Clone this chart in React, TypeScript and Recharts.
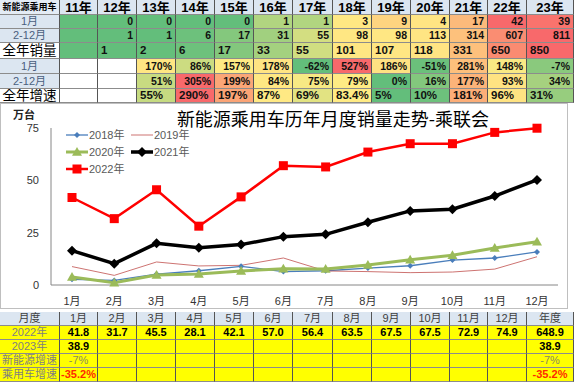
import React from 'react';
import { LineChart, Line, XAxis, YAxis } from 'recharts';

// monthly sales (万台)
const months = ['1月', '2月', '3月', '4月', '5月', '6月', '7月', '8月', '9月', '10月', '11月', '12月'];
const sales2018 = [2.7, 2.2, 5.2, 6.8, 8.9, 6.4, 6.8, 8.1, 9.2, 11.9, 12.9, 15.8];
const sales2019 = [8.8, 4.6, 11.0, 9.1, 9.4, 12.9, 6.7, 6.4, 5.9, 6.2, 7.6, 13.5];
const sales2020 = [3.8, 1.1, 4.8, 5.3, 6.7, 7.8, 7.6, 9.6, 12.1, 14.2, 17.7, 20.7];
const sales2021 = [16.4, 10.2, 19.9, 17.8, 19.3, 23.1, 24.2, 30.0, 35.4, 36.2, 42.5, 50.2];
const sales2022 = [41.8, 31.7, 45.5, 28.1, 42.1, 57.0, 56.4, 63.5, 67.5, 67.5, 72.9, 74.9];
const yTicks = [0, 25, 50, 75];

// top summary table
const years = ['11年', '12年', '13年', '14年', '15年', '16年', '17年', '18年', '19年', '20年', '21年', '22年', '23年'];
const janSales = [null, 0, 0, 0, 0, 1, 1, 3, 9, 4, 17, 42, 39];
const restSales = [null, 1, 1, 6, 17, 31, 55, 98, 98, 113, 314, 607, 811];
const totalSales = [null, 1, 2, 6, 17, 33, 55, 101, 107, 118, 331, 650, 850];
const janGrowth = [null, null, 170, 86, 157, 178, -62, 527, 186, -51, 281, 148, -7];
const restGrowth = [null, null, 51, 305, 199, 84, 75, 79, 0, 16, 177, 93, 34];
const totalGrowth = [null, null, 55, 290, 197, 87, 69, 83.4, 5, 10, 181, 96, 31];

// bottom table
const monthly2023 = [38.9];
const annual2022 = 648.9;
const annual2023 = 38.9;
const nevGrowth = '-7%';
const pvGrowth = '-35.2%';

const seriesList = [
  { name: '2018年', values: sales2018, color: '#4a7ebb', width: 1.3, shape: 'diamond', size: 6 },
  { name: '2019年', values: sales2019, color: '#c0504d', width: 1, shape: 'none', size: 0 },
  { name: '2020年', values: sales2020, color: '#9bbb59', width: 3, shape: 'triangle', size: 10 },
  { name: '2021年', values: sales2021, color: '#000000', width: 3.5, shape: 'diamond', size: 10 },
  { name: '2022年', values: sales2022, color: '#ff0000', width: 2.5, shape: 'square', size: 9 },
];

const data = months.map((m, i) => {
  const row: any = { month: m };
  seriesList.forEach(s => { row[s.name] = s.values[i]; });
  return row;
});

const FONT = '"Liberation Sans", "Noto Sans CJK SC", sans-serif';
const EDGES = [0, 60, 98, 137, 176, 215, 254, 293, 333, 372, 411, 450, 488, 527, 574];
const TOP_ROWS = [0, 15, 29, 43, 59, 74, 89, 103];
const BOT_ROWS = [312, 326, 340, 354, 368, 382];

// excel style 3-colour scale: green (min) -> yellow (median) -> red (max)
const mix = (a: number[], b: number[], t: number) =>
  `rgb(${a.map((c, i) => Math.round(c + (b[i] - c) * t)).join(',')})`;
function heat(v: number | null, row: (number | null)[], blank: string) {
  if (v == null) return blank;
  const vals = row.filter(x => x != null).map(Number).sort((a, b) => a - b);
  const min = vals[0];
  const max = vals[vals.length - 1];
  const n = vals.length;
  const med = n % 2 ? vals[(n - 1) / 2] : (vals[n / 2 - 1] + vals[n / 2]) / 2;
  const G = [99, 190, 123], Y = [255, 235, 132], R = [248, 105, 107];
  if (v <= med) return mix(G, Y, med === min ? 1 : (v - min) / (med - min));
  return mix(Y, R, (v - med) / (max - med));
}

const Cell = ({ col, top, bottom, bg, children, align = 'center', style = {} }: any) => (
  <div
    style={{
      position: 'absolute',
      left: EDGES[col],
      top,
      width: EDGES[col + 1] - EDGES[col],
      height: bottom - top,
      background: bg,
      boxSizing: 'border-box',
      borderRight: '1px solid #555',
      borderBottom: '1px solid #8c8c8c',
      display: 'flex',
      alignItems: 'center',
      justifyContent: align === 'left' ? 'flex-start' : align === 'right' ? 'flex-end' : 'center',
      padding: '0 3px',
      fontFamily: FONT,
      fontSize: 10.5,
      lineHeight: 1,
      whiteSpace: 'nowrap',
      overflow: 'hidden',
      ...style,
    }}
  >
    {children}
  </div>
);

const Marker = ({ shape, size, color, cx, cy }: any) => {
  const r = size / 2;
  if (shape === 'diamond')
    return <polygon points={`${cx},${cy - r} ${cx + r},${cy} ${cx},${cy + r} ${cx - r},${cy}`} fill={color} />;
  if (shape === 'triangle')
    return <polygon points={`${cx},${cy - r} ${cx + r},${cy + r * 0.75} ${cx - r},${cy + r * 0.75}`} fill={color} />;
  if (shape === 'square') return <rect x={cx - r} y={cy - r} width={size} height={size} fill={color} />;
  return null;
};

const makeDot = (s: any) => (props: any) => {
  const { cx, cy, index } = props;
  if (cx == null || cy == null) return <g key={index} />;
  return (
    <g key={index}>
      <Marker shape={s.shape} size={s.size} color={s.color} cx={cx} cy={cy} />
    </g>
  );
};

const pct = (v: number | null) => (v == null ? '' : `${v}%`);

export default function App() {
  const topRows = [
    { label: '1月', vals: janSales, kind: 'sales', align: 'right', fmt: (v: any) => (v == null ? '' : v) },
    { label: '2-12月', vals: restSales, kind: 'sales', align: 'right', fmt: (v: any) => (v == null ? '' : v) },
    { label: '全年销量', vals: totalSales, kind: 'sales', align: 'left', fmt: (v: any) => (v == null ? '' : v), big: true },
    { label: '1月', vals: janGrowth, kind: 'growth', align: 'right', fmt: pct },
    { label: '2-12月', vals: restGrowth, kind: 'growth', align: 'right', fmt: pct },
    { label: '全年增速', vals: totalGrowth, kind: 'growth', align: 'left', fmt: pct, big: true },
  ];

  return (
    <div style={{ position: 'absolute', left: 0, top: 0, width: 575, height: 382, background: '#fff', overflow: 'hidden' }}>
      {/* top table header */}
      <Cell col={0} top={TOP_ROWS[0]} bottom={TOP_ROWS[1]} bg="#e4ecf5" style={{ fontSize: 9, fontWeight: 700, padding: 0 }}>
        新能源乘用车
      </Cell>
      {years.map((y, i) => (
        <Cell key={y} col={i + 1} top={TOP_ROWS[0]} bottom={TOP_ROWS[1]} bg="#dce6f1" style={{ fontSize: 13, fontWeight: 700 }}>
          {y}
        </Cell>
      ))}
      {topRows.map((r, ri) => (
        <React.Fragment key={ri}>
          <Cell
            col={0}
            top={TOP_ROWS[ri + 1]}
            bottom={TOP_ROWS[ri + 2]}
            bg={r.big ? '#ffffff' : '#dce6f1'}
            style={r.big ? { fontSize: 13.5, color: '#000' } : { fontSize: 11, color: '#4a5f7e' }}
          >
            {r.label}
          </Cell>
          {r.vals.map((v, i) => (
            <Cell
              key={i}
              col={i + 1}
              top={TOP_ROWS[ri + 1]}
              bottom={TOP_ROWS[ri + 2]}
              align={r.align}
              bg={heat(v, r.vals, r.kind === 'sales' ? 'rgb(99,190,123)' : '#ffffff')}
              style={{ fontWeight: 700, fontSize: r.big ? 11.5 : 10.5, color: '#111' }}
            >
              {r.fmt(v)}
            </Cell>
          ))}
        </React.Fragment>
      ))}

      {/* chart */}
      <div
        style={{
          position: 'absolute',
          left: 0,
          top: 103,
          width: 568,
          height: 206,
          border: '1px solid #bfbfbf',
          boxSizing: 'border-box',
          background: '#fff',
        }}
      >
        <LineChart width={566} height={204} data={data} margin={{ top: 24, right: 9, left: 0, bottom: 0 }}>
          <XAxis
            dataKey="month"
            height={23}
            stroke="#868686"
            padding={{ left: 21, right: 21 }}
            tickLine={false}
            tickMargin={6}
            tick={{ fontSize: 11, fill: '#333', fontFamily: FONT }}
          />
          <YAxis
            width={50}
            domain={[0, 75]}
            ticks={yTicks}
            stroke="#868686"
            tickLine={false}
            tickMargin={6}
            tick={{ fontSize: 11, fill: '#333', fontFamily: FONT }}
          />
          {seriesList.map(s => (
            <Line
              key={s.name}
              dataKey={s.name}
              type="linear"
              stroke={s.color}
              strokeWidth={s.width}
              strokeOpacity={s.shape === 'none' ? 0.8 : 1}
              dot={s.shape === 'none' ? false : makeDot(s)}
              activeDot={false}
              isAnimationActive={false}
            />
          ))}
        </LineChart>
      </div>
      <div
        style={{
          position: 'absolute',
          left: 0,
          width: 666,
          top: 109,
          textAlign: 'center',
          fontFamily: '"Noto Sans CJK SC", sans-serif',
          fontSize: 18,
          lineHeight: '18px',
          color: '#000',
        }}
      >
        新能源乘用车历年月度销量走势-乘联会
      </div>
      <div
        style={{
          position: 'absolute',
          left: 13,
          top: 109,
          fontFamily: '"Noto Sans CJK SC", sans-serif',
          fontSize: 11,
          lineHeight: '11px',
          fontWeight: 700,
          color: '#222',
        }}
      >
        万台
      </div>
      {/* legend */}
      {seriesList.map((s, i) => (
        <div
          key={s.name}
          style={{
            position: 'absolute',
            left: 66 + (i % 2) * 65,
            top: 128 + Math.floor(i / 2) * 17,
            height: 14,
            display: 'flex',
            alignItems: 'center',
            fontFamily: FONT,
            fontSize: 11,
            lineHeight: '11px',
            color: '#595959',
          }}
        >
          <svg width={22} height={14}>
            <line x1={0} y1={7} x2={22} y2={7} stroke={s.color} strokeWidth={s.width} strokeOpacity={s.shape === 'none' ? 0.8 : 1} />
            <Marker shape={s.shape} size={s.size} color={s.color} cx={11} cy={7} />
          </svg>
          <span style={{ marginLeft: 1 }}>{s.name}</span>
        </div>
      ))}

      {/* bottom table */}
      <Cell col={0} top={BOT_ROWS[0]} bottom={BOT_ROWS[1]} bg="#dce6f1" style={{ color: '#404040', fontSize: 11 }}>
        月度
      </Cell>
      {months.map((m, i) => (
        <Cell key={m} col={i + 1} top={BOT_ROWS[0]} bottom={BOT_ROWS[1]} bg="#dce6f1" style={{ color: '#404040', fontSize: 11 }}>
          {m}
        </Cell>
      ))}
      <Cell col={13} top={BOT_ROWS[0]} bottom={BOT_ROWS[1]} bg="#dce6f1" style={{ color: '#404040', fontSize: 11 }}>
        年度
      </Cell>
      {[
        { label: '2022年', vals: sales2022.map(v => v.toFixed(1)), annual: annual2022.toFixed(1), color: '#000' },
        { label: '2023年', vals: monthly2023.map(v => v.toFixed(1)), annual: annual2023.toFixed(1), color: '#000' },
        { label: '新能源增速', vals: [nevGrowth], annual: nevGrowth, color: '#8c8c5a', light: true },
        { label: '乘用车增速', vals: [pvGrowth], annual: pvGrowth, color: '#ff2a00' },
      ].map((r, ri) => (
        <React.Fragment key={r.label}>
          <Cell col={0} top={BOT_ROWS[ri + 1]} bottom={BOT_ROWS[ri + 2]} bg="#ffff00" style={{ color: '#7f7f7f', fontSize: 11 }}>
            {r.label}
          </Cell>
          {months.map((m, i) => (
            <Cell
              key={m}
              col={i + 1}
              top={BOT_ROWS[ri + 1]}
              bottom={BOT_ROWS[ri + 2]}
              bg="#ffff00"
              style={{ fontWeight: r.light ? 400 : 700, color: r.color, fontSize: 11 }}
            >
              {r.vals[i] ?? ''}
            </Cell>
          ))}
          <Cell
            col={13}
            top={BOT_ROWS[ri + 1]}
            bottom={BOT_ROWS[ri + 2]}
            bg="#ffff00"
            style={{ fontWeight: r.light ? 400 : 700, color: r.color, fontSize: 11 }}
          >
            {r.annual}
          </Cell>
        </React.Fragment>
      ))}
    </div>
  );
}
